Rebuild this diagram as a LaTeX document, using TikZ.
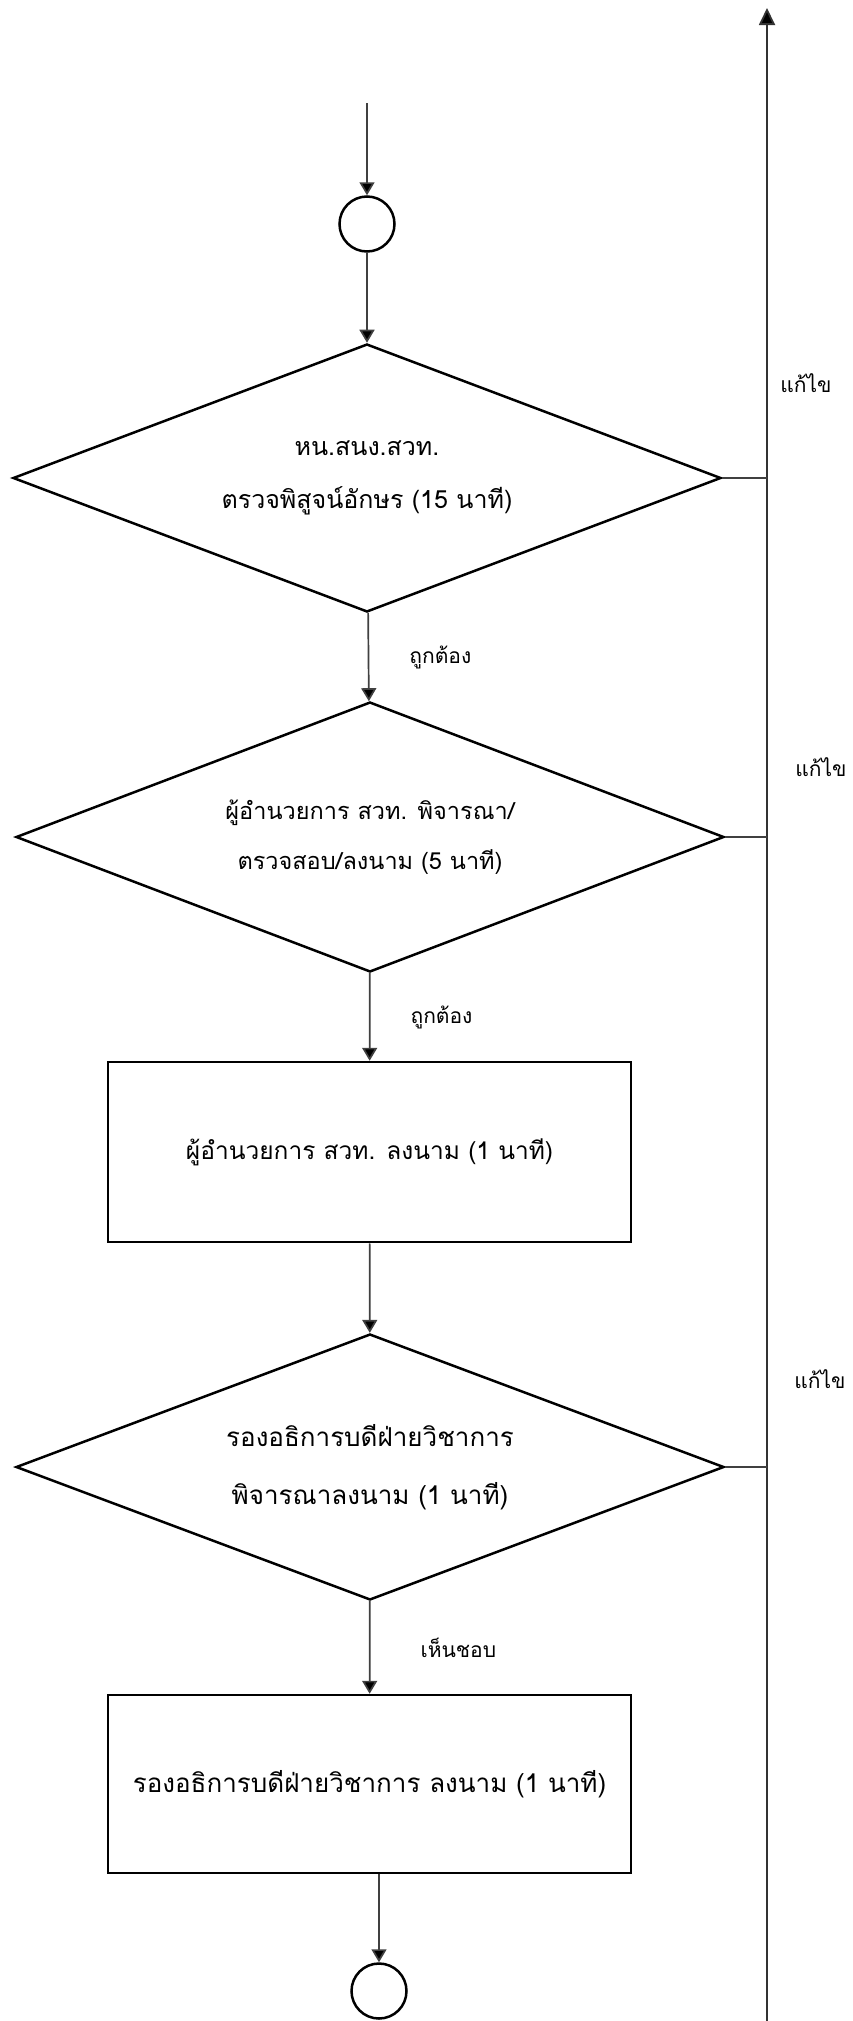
\documentclass[tikz,border=0pt]{standalone}
\usepackage{fontspec}
\newfontfamily\thaifont[Script=Thai]{Loma}
\usetikzlibrary{shapes.geometric,arrows.meta}
\begin{document}
\begin{tikzpicture}[x=1pt,y=-1pt,
  shapeline/.style={draw=black,line width=2.5pt},
  dia/.style={shapeline,shape=diamond,shape aspect=2.64,inner sep=0pt,align=center},
  box/.style={shapeline,rectangle,inner sep=0pt,align=center},
  term/.style={shapeline,circle,inner sep=0pt,minimum size=55pt},
  flow/.style={line width=1.7pt,draw=black!75,-{Triangle[width=15pt,length=13pt,fill=black]}},
  link/.style={line width=1.7pt,draw=black!75},
  lbl/.style={font=\thaifont\fontsize{21}{24}\selectfont,inner sep=0pt},
  dtxtA/.style={font=\thaifont\fontsize{25}{53}\selectfont},
  dtxtB/.style={font=\thaifont\fontsize{23.5}{50}\selectfont},
  dtxtC/.style={font=\thaifont\fontsize{26}{58}\selectfont},
  rtxtA/.style={font=\thaifont\fontsize{24.5}{30}\selectfont},
  rtxtB/.style={font=\thaifont\fontsize{26}{30}\selectfont}
]
\useasboundingbox (0,0) rectangle (853,2021);
\fill[white] (0,0) rectangle (853,2021);

\coordinate (in) at (367,103);
\node[term] (c1) at (367,224) {};
\node[dia,dtxtA,minimum width=708pt,minimum height=268pt] (d1) at (367,478)
  {หน.สนง.สวท.\\ตรวจพิสูจน์อักษร (15 นาที)};
\node[dia,dtxtB,minimum width=708pt,minimum height=270pt] (d2) at (370,837)
  {ผู้อำนวยการ สวท. พิจารณา/\\ตรวจสอบ/ลงนาม (5 นาที)};
\node[box,rtxtA,minimum width=523pt,minimum height=180pt] (r1) at (369.5,1152)
  {ผู้อำนวยการ สวท. ลงนาม (1 นาที)};
\node[dia,dtxtC,minimum width=708pt,minimum height=266pt] (d3) at (370,1467)
  {รองอธิการบดีฝ่ายวิชาการ\\พิจารณาลงนาม (1 นาที)};
\node[box,rtxtB,minimum width=523pt,minimum height=178pt] (r2) at (369.5,1784)
  {รองอธิการบดีฝ่ายวิชาการ ลงนาม (1 นาที)};
\node[term] (c2) at (379,1991) {};

\coordinate (vb) at (767,2021);
\coordinate (vt) at (767,8);
\draw[line width=1.8pt,draw=black!80,-{Triangle[width=16pt,length=17pt,fill=black]}] (vb) -- (vt);

\draw[flow] (in) -- (c1);
\draw[flow] (c1) -- (d1);
\draw[flow] (d1) -- node[lbl,right=40pt] (l1) {ถูกต้อง} (d2);
\draw[flow] (d2) -- node[lbl,right=40pt] (l2) {ถูกต้อง} (r1);
\draw[flow] (r1) -- (d3);
\draw[flow] (d3) -- node[lbl,right=50pt] (l3) {เห็นชอบ} (r2);
\draw[flow] (r2.south -| c2) -- (c2);

\draw[link] (d1.east) -- (d1.east -| vb);
\draw[link] (d2.east) -- (d2.east -| vb);
\draw[link] (d3.east) -- (d3.east -| vb);

\node[lbl] (f1) at (806,383) {แก้ไข};
\node[lbl] (f2) at (821,767) {แก้ไข};
\node[lbl] (f3) at (820,1379) {แก้ไข};
\end{tikzpicture}
\end{document}
